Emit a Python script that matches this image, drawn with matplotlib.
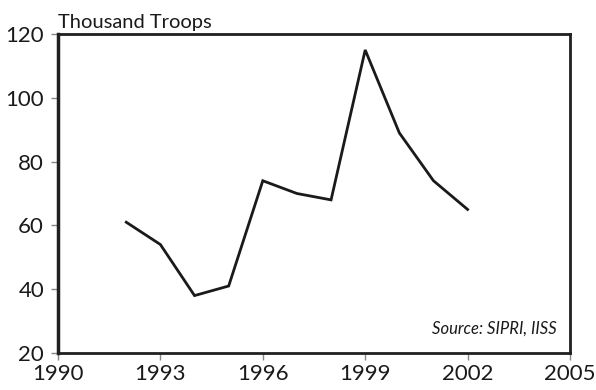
import matplotlib
matplotlib.use("Agg")
import matplotlib.pyplot as plt

years = [1992, 1993, 1994, 1995, 1996, 1997, 1998, 1999, 2000, 2001, 2002]
troops = [61, 54, 38, 41, 74, 70, 68, 115, 89, 74, 65]
x_ticks = [1990, 1993, 1996, 1999, 2002, 2005]
y_ticks = [20, 40, 60, 80, 100, 120]

plt.rcParams['font.family'] = ['Lato', 'DejaVu Sans']

fig = plt.figure(figsize=(5.96, 3.90), dpi=100)
ax = fig.add_axes([58 / 596, 1 - 353 / 390, (570 - 58) / 596, (353 - 34) / 390])

ax.plot(years, troops, color='#1a1a1a', lw=2.0, solid_joinstyle='miter')

ax.set_xlim(1990, 2005)
ax.set_ylim(20, 120)
ax.set_xticks(x_ticks)
ax.set_yticks(y_ticks)
ax.tick_params(axis='both', direction='out', length=5, width=1, color='#888888',
               labelsize=16, labelcolor='#1a1a1a')
ax.tick_params(axis='y', pad=5)
ax.tick_params(axis='x', pad=3)

for side in ['top', 'right', 'bottom']:
    ax.spines[side].set_linewidth(2)
    ax.spines[side].set_color('#231f20')
ax.spines['left'].set_linewidth(2.5)
ax.spines['left'].set_color('#231f20')

fig.text(58 / 596, 1 - 31 / 390, 'Thousand Troops', fontsize=14.5, color='#1a1a1a',
         ha='left', va='bottom')
ax.text(0.975, 0.05, 'Source: SIPRI, IISS', transform=ax.transAxes, fontsize=12,
        style='italic', ha='right', va='bottom', color='#1a1a1a')

fig.savefig('out.png', dpi=100)
